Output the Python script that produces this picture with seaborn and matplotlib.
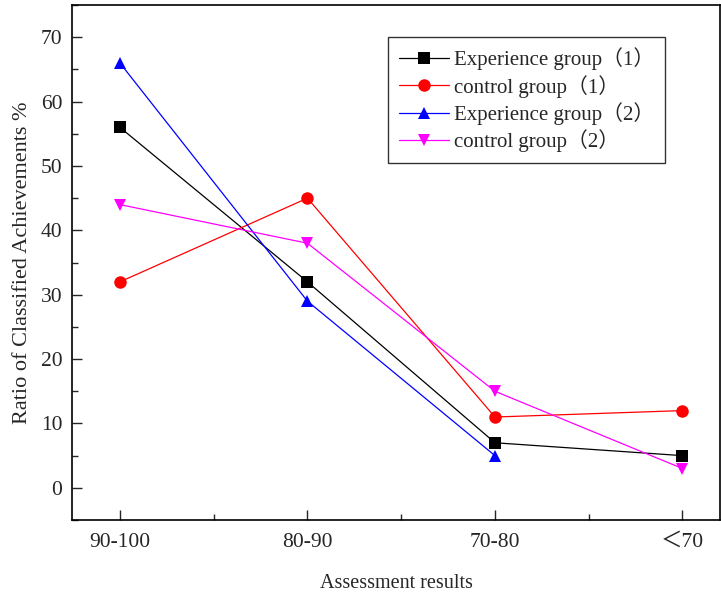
import numpy as np
import pandas as pd
import matplotlib
matplotlib.use('Agg')
import matplotlib.pyplot as plt
from matplotlib.ticker import MultipleLocator
import seaborn as sns

# Data
categories = ['90-100', '80-90', '70-80', '＜70']
series_names = ['Experience group（1）', 'control group（1）',
                'Experience group（2）', 'control group（2）']
exp_group_1 = [56, 32, 7, 5]
ctrl_group_1 = [32, 45, 11, 12]
exp_group_2 = [66, 29, 5, np.nan]
ctrl_group_2 = [44, 38, 15, 3]

sns.set_style('ticks')
plt.rcParams['font.family'] = ['Liberation Serif', 'Noto Sans CJK SC']
plt.rcParams['xtick.direction'] = 'in'
plt.rcParams['ytick.direction'] = 'in'

rows = []
for name, vals in zip(series_names, [exp_group_1, ctrl_group_1, exp_group_2, ctrl_group_2]):
    for i, v in enumerate(vals):
        rows.append({'pos': i, 'value': v, 'series': name})
df = pd.DataFrame(rows).dropna()

palette = dict(zip(series_names, ['black', 'red', 'blue', 'magenta']))
markers = dict(zip(series_names, ['s', 'o', '^', 'v']))

fig = plt.figure(figsize=(7.21, 5.96), dpi=100)
ax = fig.add_axes([0.1, 0.1275, 0.8986, 0.864])

sns.lineplot(data=df, x='pos', y='value', hue='series', style='series',
             hue_order=series_names, style_order=series_names,
             palette=palette, markers=markers, dashes=False,
             markersize=9, linewidth=0.9, markeredgewidth=0, ax=ax)

ax.set_xlim(-0.255, 3.2)
ax.set_ylim(-5, 75)
ax.set_xticks(range(len(categories)))
ax.set_xticklabels(categories)
ax.xaxis.set_minor_locator(MultipleLocator(0.5))
ax.yaxis.set_major_locator(MultipleLocator(10))
ax.yaxis.set_minor_locator(MultipleLocator(5))
ax.tick_params(which='major', length=7, width=1, labelsize=15.5)
ax.tick_params(axis='x', which='major', pad=9)
ax.tick_params(axis='y', which='major', pad=7)
ax.tick_params(which='minor', length=4, width=1)
ax.tick_params(axis='y', which='both', right=False)
ax.tick_params(axis='x', which='both', top=False)
for s in ax.spines.values():
    s.set_linewidth(1.2)
    s.set_color('black')

ax.set_xlabel('Assessment results', fontsize=14.5, labelpad=16)
ax.set_ylabel('Ratio of Classified Achievements %', fontsize=16, labelpad=6)

leg = ax.legend(loc='upper left', bbox_to_anchor=(0.488, 0.938), borderaxespad=0,
                fontsize=15, frameon=True, fancybox=False, edgecolor='black',
                handlelength=2.4, handletextpad=0.25, labelspacing=0.22,
                borderpad=0.5)
leg.get_frame().set_linewidth(1)

fig.savefig('out.png', dpi=100)
